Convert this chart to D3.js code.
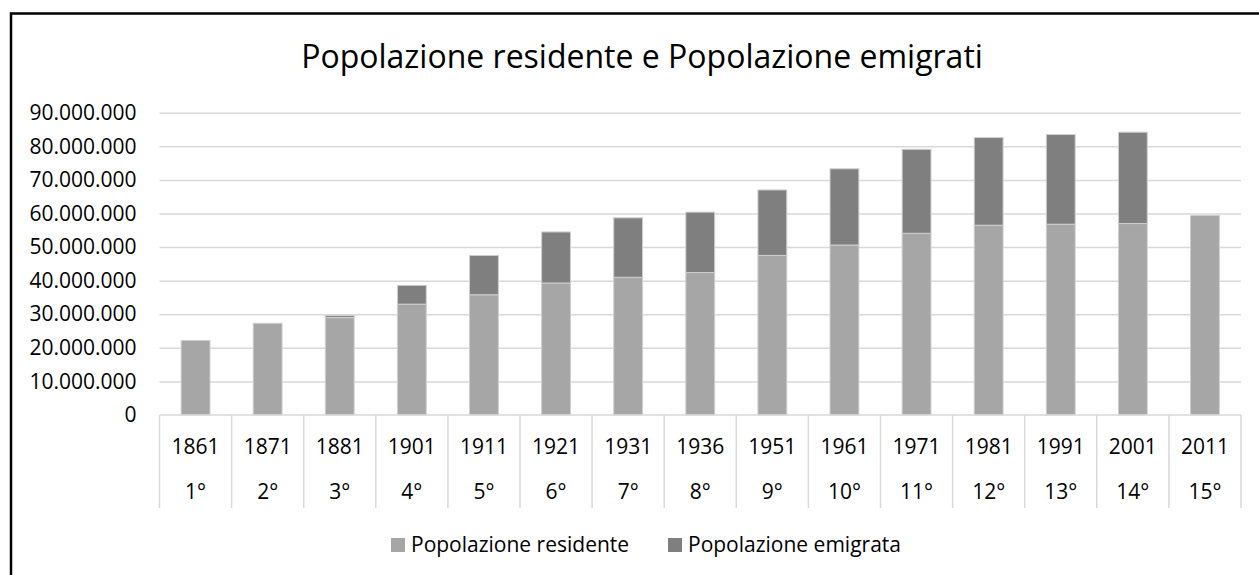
<!DOCTYPE html>
<html>
<head>
<meta charset="utf-8">
<script src="https://d3js.org/d3.v7.min.js"></script>
<style>
  * { margin: 0; padding: 0; box-sizing: border-box; }
  body { background: #fff; width: 1259px; height: 575px; overflow: hidden; font-family: 'Open Sans', sans-serif; }
  svg { display: block; }
</style>
</head>
<body>
<div id="chart"></div>
<script>
// censimenti
const years = ["1861", "1871", "1881", "1901", "1911", "1921", "1931", "1936", "1951", "1961", "1971", "1981", "1991", "2001", "2011"];
const ordinals = ["1°", "2°", "3°", "4°", "5°", "6°", "7°", "8°", "9°", "10°", "11°", "12°", "13°", "14°", "15°"];
const residente = [22200000, 27300000, 29000000, 33000000, 35800000, 39300000, 41000000, 42400000, 47500000, 50600000, 54100000, 56500000, 56800000, 57000000, 59400000];
const emigrata = [0, 0, 600000, 5600000, 11700000, 15200000, 17700000, 18000000, 19500000, 22700000, 25000000, 26100000, 26700000, 27200000, 0];
const yTicks = [0, 10000000, 20000000, 30000000, 40000000, 50000000, 60000000, 70000000, 80000000, 90000000];
const seriesNames = ["Popolazione residente", "Popolazione emigrata"];
const colors = ["#a6a6a6", "#7f7f7f"];

const W = 1259, H = 575;
const plotLeft = 159.5, plotRight = 1241, plotTop = 112.7, zeroY = 415;
const catBottom = 508;

const svg = d3.select("#chart").append("svg").attr("width", W).attr("height", H);

// cornice del grafico (esce dall'immagine a destra e in basso)
svg.append("rect")
  .attr("x", 11).attr("y", 13.5).attr("width", 1400).attr("height", 700)
  .attr("fill", "#fff").attr("stroke", "#000").attr("stroke-width", 2.5);

svg.append("text")
  .attr("x", 642).attr("y", 67.5)
  .attr("text-anchor", "middle")
  .attr("font-size", "32px").attr("fill", "#000")
  .text("Popolazione residente e Popolazione emigrati");

const fmt = d3.formatLocale({ decimal: ",", thousands: ".", grouping: [3], currency: ["", "€"] }).format(",d");

const y = d3.scaleLinear().domain([0, 90000000]).range([zeroY, plotTop]);
const x = d3.scaleBand().domain(years).range([plotLeft, plotRight]).paddingInner(0).paddingOuter(0);
const barW = x.bandwidth() * 0.4;

const yAxis = svg.append("g")
  .attr("transform", `translate(${plotLeft},0)`)
  .call(d3.axisLeft(y).tickValues(yTicks).tickFormat(fmt).tickSize(-(plotRight - plotLeft)).tickPadding(23));
yAxis.select(".domain").remove();
yAxis.selectAll(".tick line").attr("stroke", "#d9d9d9").attr("stroke-width", 1.5);
yAxis.selectAll(".tick text").attr("font-family", "'Open Sans', sans-serif").attr("font-size", "21px").attr("fill", "#000");
yAxis.selectAll(".tick").filter(d => d === 0).select("line").remove();

// barre impilate
const stackData = years.map((yr, i) => ({ year: yr, res: residente[i], emi: emigrata[i] }));
const stack = d3.stack().keys(["res", "emi"])(stackData);

svg.append("g").selectAll("g")
  .data(stack)
  .join("g")
  .attr("fill", (d, i) => colors[i])
  .selectAll("rect")
  .data(d => d.filter(p => p[1] > p[0]))
  .join("rect")
  .attr("x", d => x(d.data.year) + (x.bandwidth() - barW) / 2)
  .attr("y", d => y(d[1]))
  .attr("width", barW)
  .attr("height", d => y(d[0]) - y(d[1]))
  .attr("stroke", "#cfcfcf")
  .attr("stroke-width", 1);

// asse delle categorie a due livelli
const xg = svg.append("g");
xg.append("line")
  .attr("x1", plotLeft).attr("x2", plotRight).attr("y1", zeroY).attr("y2", zeroY)
  .attr("stroke", "#d9d9d9").attr("stroke-width", 1.5);
xg.selectAll(".div")
  .data(years.concat(["end"]))
  .join("line")
  .attr("x1", (d, i) => i < years.length ? x(d) : plotRight)
  .attr("x2", (d, i) => i < years.length ? x(d) : plotRight)
  .attr("y1", zeroY).attr("y2", catBottom)
  .attr("stroke", "#d9d9d9").attr("stroke-width", 1.5);
xg.selectAll(".yr")
  .data(years)
  .join("text")
  .attr("x", d => x(d) + x.bandwidth() / 2)
  .attr("y", 454)
  .attr("text-anchor", "middle")
  .attr("font-size", "21px").attr("fill", "#000")
  .text(d => d);
xg.selectAll(".ord")
  .data(years)
  .join("text")
  .attr("x", d => x(d) + x.bandwidth() / 2)
  .attr("y", 499)
  .attr("text-anchor", "middle")
  .attr("font-size", "21px").attr("fill", "#000")
  .text((d, i) => ordinals[i]);

// legenda
const legX = [391, 668];
const leg = svg.append("g").selectAll("g")
  .data(seriesNames)
  .join("g")
  .attr("transform", (d, i) => `translate(${legX[i]},538)`);
leg.append("rect").attr("width", 14).attr("height", 14).attr("fill", (d, i) => colors[i]);
leg.append("text")
  .attr("x", 20).attr("y", 14)
  .attr("font-size", "21px").attr("fill", "#000")
  .text(d => d);
</script>
</body>
</html>
